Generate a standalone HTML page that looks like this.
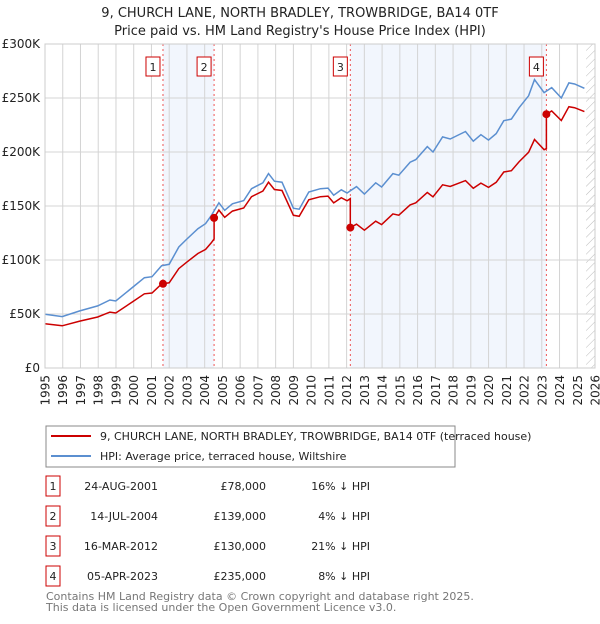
<!DOCTYPE html>
<html><head><meta charset="utf-8"><style>
body{margin:0;background:#fff;font-family:"DejaVu Sans","Liberation Sans",sans-serif;}
svg text{font-family:"DejaVu Sans","Liberation Sans",sans-serif;}
</style></head><body>
<svg id="c" width="600" height="620" viewBox="0 0 600 620" xmlns="http://www.w3.org/2000/svg">
<defs><pattern id="hatch" width="6" height="6" patternUnits="userSpaceOnUse" patternTransform="rotate(45)"><line x1="0" y1="0" x2="0" y2="6" stroke="#bbb" stroke-width="1"/></pattern></defs>
<text x="300" y="17" text-anchor="middle" font-size="13" fill="#222">9, CHURCH LANE, NORTH BRADLEY, TROWBRIDGE, BA14 0TF</text>
<text x="300" y="35" text-anchor="middle" font-size="13" fill="#222">Price paid vs. HM Land Registry's House Price Index (HPI)</text>
<g id="plot"></g>
<g>
<rect x="46" y="426" width="409" height="41" fill="#fff" stroke="#888"/>
<line x1="51" y1="436" x2="91" y2="436" stroke="#cc0000" stroke-width="2"/>
<text x="100" y="440" font-size="11" fill="#222">9, CHURCH LANE, NORTH BRADLEY, TROWBRIDGE, BA14 0TF (terraced house)</text>
<line x1="51" y1="456" x2="91" y2="456" stroke="#5b8fd0" stroke-width="2"/>
<text x="100" y="460" font-size="11" fill="#222">HPI: Average price, terraced house, Wiltshire</text>
</g>
<g id="table" font-size="11" fill="#222"></g>
<text x="46" y="600" font-size="11" fill="#777">Contains HM Land Registry data © Crown copyright and database right 2025.</text>
<text x="46" y="611" font-size="11" fill="#777">This data is licensed under the Open Government Licence v3.0.</text>
</svg>
<script>
const hpiYears=[1995.0,1995.97,1996.96,1997.97,1998.66,1998.99,1999.96,2000.6,2001.03,2001.57,2002.0,2002.54,2002.97,2003.62,2004.05,2004.37,2004.8,2005.13,2005.56,2006.2,2006.64,2007.28,2007.6,2007.93,2008.36,2009.0,2009.33,2009.87,2010.52,2010.95,2011.27,2011.7,2012.03,2012.56,2013.0,2013.64,2013.97,2014.61,2014.94,2015.58,2015.9,2016.55,2016.87,2017.41,2017.84,2018.7,2019.14,2019.57,2020.0,2020.43,2020.86,2021.29,2021.72,2022.26,2022.59,2023.13,2023.56,2024.1,2024.53,2024.85,2025.4];
const hpiValues=[49.8,47.6,52.9,57.5,63,62,75,83.6,84.5,94.7,96,112,119,129,133.7,141,153,146,152,155,166,171.5,180,173,172,148,147,163,166,166.6,160,165,162,168,161,171.5,167.6,180,178.5,190.6,193,205,200,214,212,219,210,216,211,217,229,230.5,241,252,267,255,259.6,250,264,263,259];
const saleYears=[2001.65,2004.53,2012.21,2023.26];
const salePrices=[78,139,130,235];
const saleDates=["24-AUG-2001","14-JUL-2004","16-MAR-2012","05-APR-2023"];
const salePriceLabels=["£78,000","£139,000","£130,000","£235,000"];
const saleDiffs=["16% ↓ HPI","4% ↓ HPI","21% ↓ HPI","8% ↓ HPI"];
const yTicks=[0,50,100,150,200,250,300];
const yTickLabels=["£0","£50K","£100K","£150K","£200K","£250K","£300K"];
const xTicks=[1995,1996,1997,1998,1999,2000,2001,2002,2003,2004,2005,2006,2007,2008,2009,2010,2011,2012,2013,2014,2015,2016,2017,2018,2019,2020,2021,2022,2023,2024,2025,2026];

const X0=45,X1=595,Y0=368,Y1=44;
const xs=y=>X0+(y-1995)/(2026-1995)*(X1-X0);
const ys=v=>Y0-(v/300)*(Y0-Y1);
const NS="http://www.w3.org/2000/svg";
const plot=document.getElementById('plot');
function mk(tag,attrs,parent){const e=document.createElementNS(NS,tag);for(const k in attrs)e.setAttribute(k,attrs[k]);(parent||plot).appendChild(e);return e;}
function hpiAt(t){if(t<=hpiYears[0])return hpiValues[0];for(let i=1;i<hpiYears.length;i++){if(t<=hpiYears[i]){const f=(t-hpiYears[i-1])/(hpiYears[i]-hpiYears[i-1]);return hpiValues[i-1]+f*(hpiValues[i]-hpiValues[i-1]);}}return hpiValues[hpiValues.length-1];}

let r=mk('rect',{x:xs(saleYears[0]),y:Y1,width:xs(saleYears[1])-xs(saleYears[0]),height:Y0-Y1,fill:'#f2f6fd'});


r=mk('rect',{x:xs(saleYears[2]),y:Y1,width:xs(saleYears[3])-xs(saleYears[2]),height:Y0-Y1,fill:'#f2f6fd'});


const lastY=hpiYears[hpiYears.length-1]+0.1;
r=mk('rect',{x:xs(lastY),y:Y1,width:X1-xs(lastY),height:Y0-Y1,fill:'url(#hatch)'});



xTicks.forEach(t=>{const l=mk('line',{x1:xs(t),x2:xs(t),y1:Y1,y2:Y0,stroke:'#d4d4d4','stroke-width':1});


const tx=mk('text',{x:0,y:0,'text-anchor':'end','font-size':12,fill:'#222',transform:'translate('+(xs(t)+4.5).toFixed(1)+','+(Y0+7)+') rotate(-90)'});tx.textContent=t;

});
yTicks.forEach((t,i)=>{const l=mk('line',{x1:X0,x2:X1,y1:ys(t),y2:ys(t),stroke:'#d4d4d4','stroke-width':1});


const tx=mk('text',{x:X0-5,y:ys(t)+4,'text-anchor':'end','font-size':12,fill:'#222'});tx.textContent=yTickLabels[i];

});

saleYears.forEach((s,i)=>{const l=mk('line',{x1:xs(s),x2:xs(s),y1:Y1,y2:Y0,stroke:'#e55','stroke-width':1,'stroke-dasharray':'2,3'});


const bx=xs(s)-3-14;const b=mk('rect',{x:bx,y:57,width:14,height:19,fill:'#fff',stroke:'#cc0000'});


const tx=mk('text',{x:bx+7,y:71,'text-anchor':'middle','font-size':11,fill:'#222'});tx.textContent=i+1;

});

let d='';hpiYears.forEach((y,i)=>{d+=(i?'L':'M')+xs(y).toFixed(1)+','+ys(hpiValues[i]).toFixed(1);});
const hp=mk('path',{d:d,fill:'none',stroke:'#5b8fd0','stroke-width':1.5});



function ratioAt(t){let k=0;for(let i=0;i<saleYears.length;i++)if(t>=saleYears[i])k=i;return salePrices[k]/hpiAt(saleYears[k]);}
const pts=[];hpiYears.forEach(y=>pts.push(y));saleYears.forEach(s=>{pts.push(s-0.001);pts.push(s);});pts.sort((a,b)=>a-b);
d='';pts.forEach((t,i)=>{d+=(i?'L':'M')+xs(t).toFixed(1)+','+ys(hpiAt(t)*ratioAt(t)).toFixed(1);});
const pp=mk('path',{d:d,fill:'none',stroke:'#cc0000','stroke-width':1.5});


saleYears.forEach((s,i)=>{const c=mk('circle',{cx:xs(s),cy:ys(salePrices[i]),r:4,fill:'#cc0000'});

});

const bd=mk('rect',{x:X0,y:Y1,width:X1-X0,height:Y0-Y1,fill:'none',stroke:'#ccc'});



const tb=document.getElementById('table');
saleYears.forEach((s,i)=>{const y=486+i*30;
const b=mk('rect',{x:46,y:y-10,width:14,height:20,fill:'#fff',stroke:'#cc0000'},tb);


const cells=[[53,'middle',String(i+1)],[158,'end',saleDates[i]],[266,'end',salePriceLabels[i]],[370,'end',saleDiffs[i]]];
cells.forEach(c=>{const tx=mk('text',{x:c[0],y:y+4,'text-anchor':c[1],'font-size':11,fill:'#222'},tb);tx.textContent=c[2];

});});
</script>
</body></html>
